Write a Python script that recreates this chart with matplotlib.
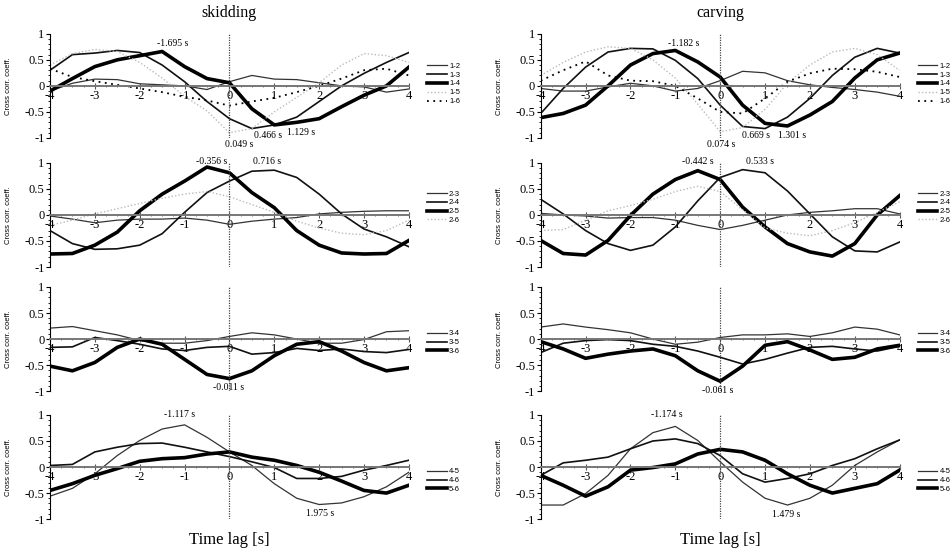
import matplotlib
matplotlib.use("Agg")
import matplotlib.pyplot as plt
from matplotlib.ticker import MultipleLocator

# time lag grid (s), values every 0.5 s
lag = [-4, -3.5, -3, -2.5, -2, -1.5, -1, -0.5, 0, 0.5, 1, 1.5, 2, 2.5, 3, 3.5, 4]

# ---- skidding ----
s_12 = [-0.1, 0.05, 0.13, 0.12, 0.04, 0.02, 0.0, -0.07, 0.08, 0.2, 0.13, 0.12, 0.06, 0.0, -0.02, -0.12, -0.06]
s_13 = [0.3, 0.6, 0.63, 0.68, 0.64, 0.4, 0.08, -0.3, -0.63, -0.82, -0.75, -0.6, -0.3, 0.0, 0.24, 0.45, 0.64]
s_14 = [-0.1, 0.14, 0.37, 0.5, 0.58, 0.66, 0.37, 0.14, 0.06, -0.44, -0.75, -0.7, -0.63, -0.4, -0.18, 0.0, 0.36]
s_15 = [0.4, 0.62, 0.7, 0.66, 0.45, 0.15, -0.2, -0.48, -0.9, -0.82, -0.5, -0.22, 0.06, 0.4, 0.62, 0.58, 0.45]
s_16 = [0.33, 0.17, 0.09, 0.02, -0.05, -0.12, -0.21, -0.28, -0.38, -0.3, -0.23, -0.12, 0.0, 0.14, 0.3, 0.33, 0.2]

s_23 = [-0.02, -0.08, -0.15, -0.1, -0.08, -0.08, -0.06, -0.1, -0.18, -0.12, -0.08, -0.05, 0.02, 0.05, 0.07, 0.08, 0.08]
s_24 = [-0.3, -0.55, -0.66, -0.65, -0.58, -0.36, 0.05, 0.43, 0.65, 0.84, 0.86, 0.72, 0.4, 0.02, -0.27, -0.42, -0.61]
s_25 = [-0.75, -0.74, -0.58, -0.33, 0.08, 0.4, 0.65, 0.92, 0.81, 0.43, 0.14, -0.3, -0.58, -0.73, -0.75, -0.74, -0.49]
s_26 = [-0.2, -0.1, 0.02, 0.12, 0.22, 0.32, 0.4, 0.45, 0.35, 0.2, 0.05, -0.12, -0.25, -0.35, -0.38, -0.3, -0.1]

s_34 = [0.21, 0.24, 0.16, 0.08, -0.03, -0.08, -0.08, -0.03, 0.05, 0.12, 0.08, 0.0, -0.08, -0.08, -0.01, 0.14, 0.16]
s_35 = [-0.16, -0.15, 0.03, -0.03, -0.1, -0.19, -0.22, -0.16, -0.14, -0.29, -0.26, -0.18, -0.22, -0.19, -0.24, -0.26, -0.2]
s_36 = [-0.52, -0.61, -0.45, -0.16, 0.0, -0.1, -0.39, -0.68, -0.76, -0.61, -0.32, -0.1, -0.05, -0.23, -0.45, -0.61, -0.55]

s_45 = [-0.56, -0.41, -0.13, 0.22, 0.51, 0.73, 0.81, 0.57, 0.29, 0.03, -0.32, -0.6, -0.72, -0.69, -0.57, -0.38, -0.1]
s_46 = [0.03, 0.05, 0.29, 0.38, 0.45, 0.46, 0.38, 0.29, 0.2, 0.1, -0.01, -0.22, -0.22, -0.18, -0.06, 0.03, 0.13]
s_56 = [-0.45, -0.32, -0.16, -0.03, 0.11, 0.16, 0.18, 0.25, 0.29, 0.19, 0.13, 0.03, -0.1, -0.27, -0.45, -0.5, -0.35]

# ---- carving ----
c_12 = [-0.05, -0.1, -0.1, -0.02, 0.05, 0.0, -0.1, -0.05, 0.1, 0.28, 0.25, 0.1, 0.02, -0.03, -0.07, -0.12, -0.2]
c_13 = [-0.53, -0.05, 0.36, 0.65, 0.72, 0.71, 0.49, 0.14, -0.37, -0.78, -0.82, -0.6, -0.24, 0.2, 0.55, 0.72, 0.63]
c_14 = [-0.61, -0.53, -0.37, 0.0, 0.4, 0.62, 0.68, 0.46, 0.17, -0.37, -0.72, -0.77, -0.56, -0.3, 0.15, 0.5, 0.63]
c_15 = [0.2, 0.45, 0.65, 0.75, 0.72, 0.5, 0.15, -0.35, -0.88, -0.8, -0.45, 0.05, 0.4, 0.65, 0.72, 0.6, 0.3]
c_16 = [0.1, 0.3, 0.47, 0.2, 0.1, 0.09, 0.0, -0.24, -0.5, -0.53, -0.24, 0.08, 0.24, 0.33, 0.32, 0.27, 0.17]

c_23 = [0.03, 0.0, -0.02, -0.06, -0.05, -0.05, -0.1, -0.2, -0.28, -0.2, -0.1, 0.0, 0.05, 0.08, 0.12, 0.12, 0.02]
c_24 = [0.3, 0.02, -0.3, -0.55, -0.68, -0.58, -0.23, 0.27, 0.72, 0.87, 0.81, 0.46, 0.02, -0.42, -0.69, -0.71, -0.52]
c_25 = [-0.49, -0.74, -0.77, -0.49, -0.01, 0.4, 0.68, 0.85, 0.68, 0.15, -0.23, -0.55, -0.71, -0.79, -0.55, 0.0, 0.37]
c_26 = [-0.3, -0.28, -0.1, 0.08, 0.18, 0.3, 0.45, 0.55, 0.45, 0.1, -0.25, -0.35, -0.4, -0.3, -0.15, 0.05, 0.25]

c_34 = [0.23, 0.29, 0.23, 0.18, 0.12, 0.0, -0.1, -0.06, 0.03, 0.08, 0.08, 0.1, 0.05, 0.12, 0.23, 0.19, 0.08]
c_35 = [-0.26, -0.08, -0.03, -0.01, -0.03, -0.1, -0.14, -0.23, -0.35, -0.48, -0.39, -0.27, -0.16, -0.14, -0.19, -0.23, -0.14]
c_36 = [-0.05, -0.19, -0.37, -0.29, -0.23, -0.19, -0.32, -0.61, -0.81, -0.52, -0.12, -0.05, -0.21, -0.39, -0.35, -0.19, -0.12]

c_45 = [-0.73, -0.73, -0.51, -0.16, 0.35, 0.66, 0.78, 0.51, 0.1, -0.29, -0.6, -0.73, -0.6, -0.35, 0.03, 0.29, 0.52]
c_46 = [-0.16, 0.08, 0.13, 0.19, 0.35, 0.5, 0.54, 0.45, 0.22, -0.13, -0.29, -0.22, -0.13, 0.03, 0.16, 0.35, 0.52]
c_56 = [-0.16, -0.35, -0.56, -0.38, -0.06, -0.01, 0.06, 0.25, 0.34, 0.29, 0.13, -0.13, -0.35, -0.5, -0.41, -0.32, -0.06]

# lag labels (text, x, y)
s_notes = [
    [("-1.695 s", -1.27, 0.82), ("0.466 s", 0.87, -0.96), ("1.129 s", 1.59, -0.9), ("0.049 s", 0.22, -1.12)],
    [("-0.356 s", -0.4, 1.03), ("0.716 s", 0.83, 1.03)],
    [("-0.011 s", -0.02, -0.93)],
    [("-1.117 s", -1.12, 1.0), ("1.975 s", 2.03, -0.9)],
]
c_notes = [
    [("-1.182 s", -0.82, 0.82), ("0.669 s", 0.79, -0.95), ("1.301 s", 1.61, -0.95), ("0.074 s", 0.03, -1.12)],
    [("-0.442 s", -0.5, 1.03), ("0.533 s", 0.88, 1.03)],
    [("-0.061 s", -0.05, -0.98)],
    [("-1.174 s", -1.2, 1.0), ("1.479 s", 1.48, -0.92)],
]

# line look per slot: thin, medium, thick, grey dots, black dots
styles = [
    dict(color="#333333", lw=0.9),
    dict(color="#111111", lw=1.2),
    dict(color="black", lw=2.6),
    dict(color="#bbbbbb", lw=1.0, linestyle=(0, (1, 1.5))),
    dict(color="black", lw=1.3, linestyle=(0, (1, 2.5))),
]

skid_rows = [
    (["1-2", "1-3", "1-4", "1-5", "1-6"], [s_12, s_13, s_14, s_15, s_16]),
    (["2-3", "2-4", "2-5", "2-6"], [s_23, s_24, s_25, s_26]),
    (["3-4", "3-5", "3-6"], [s_34, s_35, s_36]),
    (["4-5", "4-6", "5-6"], [s_45, s_46, s_56]),
]
carv_rows = [
    (["1-2", "1-3", "1-4", "1-5", "1-6"], [c_12, c_13, c_14, c_15, c_16]),
    (["2-3", "2-4", "2-5", "2-6"], [c_23, c_24, c_25, c_26]),
    (["3-4", "3-5", "3-6"], [c_34, c_35, c_36]),
    (["4-5", "4-6", "5-6"], [c_45, c_46, c_56]),
]

serif = "Liberation Serif"
sans = "Liberation Sans"

fig = plt.figure(figsize=(9.52, 5.54), dpi=100)

col_left = [0.0525, 0.568]
col_w = 0.377
row_bottom = [0.751, 0.518, 0.294, 0.063]
row_h = 0.188
legend_y = [0.52, 0.575, 0.466, 0.37]


def draw_panel(ax, names, series, notes, ly):
    for i, (name, vals) in enumerate(zip(names, series)):
        ax.plot(lag, vals, label=name, solid_joinstyle="round", **styles[i])

    ax.axvline(0, color="#444444", lw=0.9, linestyle=(0, (1, 1)))

    ax.set_xlim(-4, 4)
    ax.set_ylim(-1, 1)

    # x axis lives on the zero line
    ax.spines["bottom"].set_position(("data", 0))
    ax.spines["bottom"].set_color("#777777")
    ax.spines["bottom"].set_linewidth(1.4)
    ax.spines["top"].set_visible(False)
    ax.spines["right"].set_visible(False)
    ax.spines["left"].set_linewidth(0.8)

    ax.xaxis.set_major_locator(MultipleLocator(1))
    ax.xaxis.set_minor_locator(MultipleLocator(0.25))
    ax.yaxis.set_major_locator(MultipleLocator(0.5))
    ax.yaxis.set_minor_locator(MultipleLocator(0.1))
    ax.set_yticks([-1, -0.5, 0, 0.5, 1])
    ax.set_yticklabels(["-1", "-0.5", "0", "0.5", "1"])
    ax.set_xticks([-4, -3, -2, -1, 0, 1, 2, 3, 4])
    ax.set_xticklabels(["-4", "-3", "-2", "-1", "0", "1", "2", "3", "4"])
    ax.tick_params(axis="x", which="major", length=4, width=0.8, direction="inout",
                   color="#555555", pad=1, labelsize=9)
    ax.tick_params(axis="x", which="minor", length=2, width=0.6, direction="inout", color="#555555")
    ax.tick_params(axis="y", which="major", length=3, width=0.8, pad=1, labelsize=9)
    ax.tick_params(axis="y", which="minor", length=1.5, width=0.6)
    for lab in ax.get_xticklabels() + ax.get_yticklabels():
        lab.set_fontfamily(serif)

    ax.set_ylabel("Cross corr. coeff.", fontsize=5.5, fontfamily=sans)
    ax.yaxis.set_label_coords(-0.105, 0.5)

    for txt, x, y in notes:
        ax.text(x, y, txt, fontsize=7, fontfamily=serif, ha="center", va="center")

    leg = ax.legend(loc="center left", bbox_to_anchor=(1.05, ly), frameon=False,
                    fontsize=5.5, handlelength=2.6, handletextpad=0.3,
                    labelspacing=0.2, borderpad=0, borderaxespad=0)
    for t in leg.get_texts():
        t.set_fontfamily(sans)


for r in range(4):
    ax = fig.add_axes([col_left[0], row_bottom[r], col_w, row_h])
    draw_panel(ax, skid_rows[r][0], skid_rows[r][1], s_notes[r], legend_y[r])
    ax2 = fig.add_axes([col_left[1], row_bottom[r], col_w, row_h])
    draw_panel(ax2, carv_rows[r][0], carv_rows[r][1], c_notes[r], legend_y[r])

fig.text(0.241, 0.976, "skidding", fontsize=11.5, fontfamily=serif, ha="center", va="center")
fig.text(0.757, 0.976, "carving", fontsize=11.5, fontfamily=serif, ha="center", va="center")
fig.text(0.241, 0.025, "Time lag [s]", fontsize=12, fontfamily=serif, ha="center", va="center")
fig.text(0.757, 0.025, "Time lag [s]", fontsize=12, fontfamily=serif, ha="center", va="center")

fig.savefig("out.png", dpi=100)
